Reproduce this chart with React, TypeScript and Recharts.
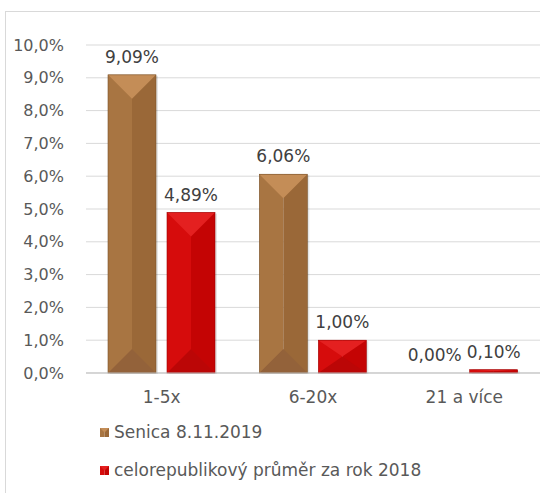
import { BarChart, Bar, XAxis, YAxis, CartesianGrid, LabelList } from "recharts";

// ---------------------------------------------------------------------------
// Data
// ---------------------------------------------------------------------------

const CATEGORIES = ["1-5x", "6-20x", "21 a více"];
const SENICA = [9.09, 6.06, 0.0];
const CR_AVG = [4.89, 1.0, 0.1];
const Y_TICKS = [0, 1, 2, 3, 4, 5, 6, 7, 8, 9, 10];
const SERIES = [
  { key: "senica", name: "Senica 8.11.2019" },
  { key: "cr", name: "celorepublikový průměr za rok 2018" },
];

// ---------------------------------------------------------------------------
// Style
// ---------------------------------------------------------------------------

const FONT = "'DejaVu Sans', Verdana, sans-serif";
const TEXT = "#595959";

const PALETTE: Record<string, { left: string; right: string; top: string; bottom: string; edge: string }> = {
  senica: { left: "#a87542", right: "#9a6838", top: "#c48d57", bottom: "#93623a", edge: "#7a5129" },
  cr: { left: "#d60c0c", right: "#c40404", top: "#e42020", bottom: "#bb0606", edge: "#a00000" },
};

const data = CATEGORIES.map((c, i) => ({ name: c, senica: SENICA[i], cr: CR_AVG[i] }));

const pct = (v: number, d: number) => `${v.toFixed(d).replace(".", ",")}%`;

function BevelBar(props: any) {
  const { x, y, width, height, seriesKey } = props;
  const c = PALETTE[seriesKey];
  if (!height || height <= 0) return null;
  const d = Math.min(width / 2, height / 2);
  const cx = x + width / 2;
  return (
    <g>
      <rect x={x + 2} y={y + 1} width={width} height={height} fill="#000" opacity={0.1} />
      <rect x={x} y={y} width={width / 2} height={height} fill={c.left} />
      <rect x={cx} y={y} width={width / 2} height={height} fill={c.right} />
      <polygon points={`${x},${y} ${x + width},${y} ${cx},${y + d}`} fill={c.top} />
      <polygon
        points={`${x},${y + height} ${x + width},${y + height} ${cx},${y + height - d}`}
        fill={c.bottom}
      />
      <rect x={x} y={y} width={width} height={height} fill="none" stroke={c.edge} strokeWidth={0.6} />
    </g>
  );
}

function LegendBox() {
  return (
    <div style={{ fontFamily: FONT, fontSize: 17, color: TEXT, lineHeight: "38px" }}>
      {SERIES.map((s) => (
        <div key={s.key} style={{ display: "flex", alignItems: "center", whiteSpace: "nowrap" }}>
          <svg width={9} height={9} style={{ marginRight: 5 }}>
            <rect x={0} y={0} width={4.5} height={9} fill={PALETTE[s.key].left} />
            <rect x={4.5} y={0} width={4.5} height={9} fill={PALETTE[s.key].right} />
            <polygon points="0,0 9,0 4.5,4.5" fill={PALETTE[s.key].top} />
          </svg>
          {s.name}
        </div>
      ))}
    </div>
  );
}

export default function App() {
  return (
    <div style={{ position: "absolute", left: 0, top: 0, width: 540, height: 493, overflow: "hidden", background: "#fff" }}>
      <div
        style={{
          position: "absolute",
          left: 5,
          top: 11,
          width: 560,
          height: 500,
          border: "1px solid #d9d9d9",
        }}
      />
      <div style={{ position: "absolute", left: 0, top: 0, fontFamily: FONT }}>
        <BarChart
          width={540}
          height={493}
          data={data}
          margin={{ top: 45, right: 0, left: 0, bottom: 90 }}
          barSize={48}
          barGap={11}
        >
          <CartesianGrid vertical={false} stroke="#d9d9d9" />
          <XAxis
            dataKey="name"
            height={30}
            axisLine={{ stroke: "#bfbfbf" }}
            tickLine={false}
            tickMargin={12}
            tick={{ fontSize: 17, fill: TEXT }}
          />
          <YAxis
            width={86}
            domain={[0, 10]}
            ticks={Y_TICKS}
            axisLine={false}
            tickLine={false}
            tickSize={0}
            tickMargin={22}
            tick={{ fontSize: 16, fill: TEXT }}
            tickFormatter={(v: number) => pct(v, 1)}
          />
          {SERIES.map((s) => (
            <Bar
              key={s.key}
              dataKey={s.key}
              name={s.name}
              fill={PALETTE[s.key].left}
              isAnimationActive={false}
              shape={(p: any) => <BevelBar {...p} seriesKey={s.key} />}
            >
              <LabelList
                dataKey={s.key}
                position="top"
                offset={12}
                fill="#404040"
                fontSize={17}
                formatter={(v: number) => pct(v, 2)}
              />
            </Bar>
          ))}
        </BarChart>
      </div>
      <div style={{ position: "absolute", left: 100, top: 413 }}>
        <LegendBox />
      </div>
    </div>
  );
}
